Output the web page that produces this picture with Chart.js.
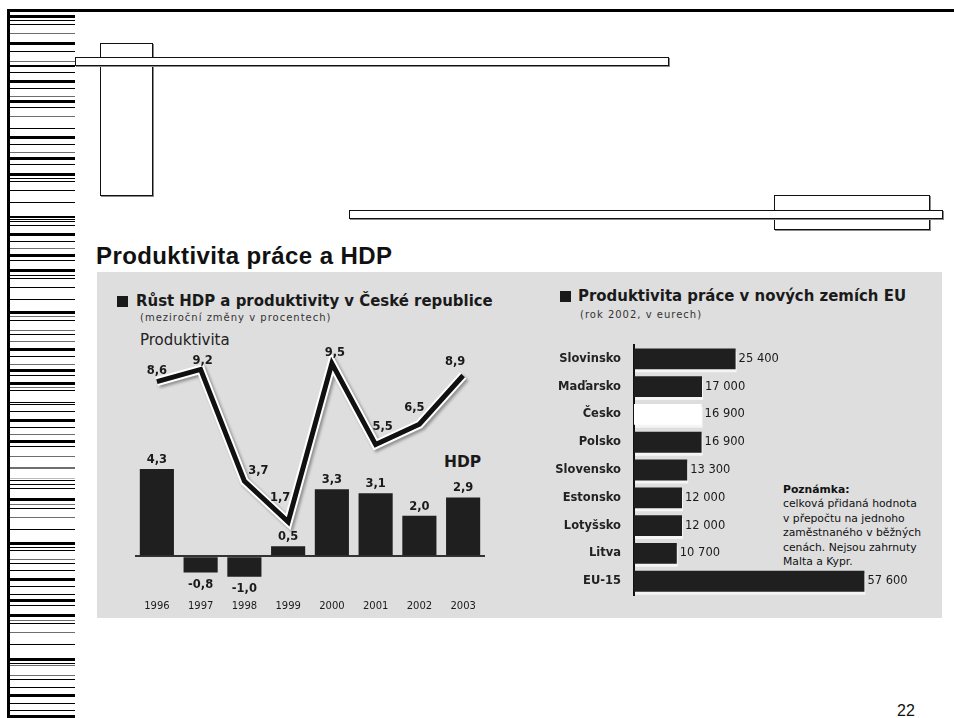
<!DOCTYPE html>
<html>
<head>
<meta charset="utf-8">
<script src="https://cdn.jsdelivr.net/npm/chart.js@4.4.0/dist/chart.umd.min.js"></script>
<style>
  body { margin: 0; width: 954px; height: 718px; position: relative; overflow: hidden; background: #fff; font-family: "Liberation Sans", Arial, sans-serif; color: #1a1a1a; }
  .abs { position: absolute; }
  .box { position: absolute; box-sizing: border-box; border: 1px solid #111; background: #fff; box-shadow: 1px 1px 0 #8a8a8a; }
  .panel { position: absolute; left: 97px; top: 272px; width: 845px; height: 346px; background: #dedede; }
  .title { left: 96px; top: 244px; font-size: 24px; font-weight: bold; line-height: 1; letter-spacing: 0.4px; color: #111; }
  .head { font-family: "Liberation Sans Narrow", "DejaVu Sans Condensed", "Liberation Sans", sans-serif; font-size: 16.6px; font-weight: bold; line-height: 1; color: #1a1a1a; white-space: nowrap; }
  .sq { position: absolute; width: 11px; height: 11px; background: #1a1a1a; }
  .small { font-family: "DejaVu Sans", sans-serif; font-size: 10px; line-height: 1; letter-spacing: 1px; color: #333; white-space: nowrap; }
  .note { font-family: "DejaVu Sans", sans-serif; font-size: 10.8px; line-height: 14.4px; color: #111; white-space: nowrap; }
  canvas { position: absolute; }
</style>
</head>
<body>
<div id="stripes"></div>
<div class="abs" style="left:7px;top:9px;width:947px;height:3px;background:#000"></div>
<div class="abs" style="left:7px;top:9px;width:3px;height:709px;background:#000"></div>

<div class="box" style="left:100px;top:43px;width:53px;height:153px"></div>
<div class="box" style="left:75px;top:57px;width:594px;height:9px"></div>
<div class="box" style="left:774px;top:195px;width:156px;height:35px"></div>
<div class="box" style="left:349px;top:210px;width:594px;height:9px"></div>

<div class="abs title">Produktivita práce a HDP</div>
<div class="panel"></div>

<div class="sq" style="left:117px;top:296px"></div>
<div class="abs head" style="left:136px;top:293px">Růst HDP a produktivity v České republice</div>
<div class="abs small" style="left:140px;top:313px">(meziroční změny v procentech)</div>
<div class="abs" style="left:140px;top:333px;font-family:'DejaVu Sans',sans-serif;font-size:15px;line-height:1;color:#222">Produktivita</div>
<div class="abs" style="left:444px;top:455px;font-family:'DejaVu Sans',sans-serif;font-weight:bold;font-size:15.5px;line-height:1;color:#1a1a1a">HDP</div>

<div class="sq" style="left:560px;top:291px"></div>
<div class="abs head" style="left:578px;top:288px">Produktivita práce v nových zemích EU</div>
<div class="abs small" style="left:580px;top:310px">(rok 2002, v eurech)</div>

<div class="abs note" style="left:783px;top:483px"><b>Poznámka:</b><br>celková přidaná hodnota<br>v přepočtu na jednoho<br>zaměstnaného v běžných<br>cenách. Nejsou zahrnuty<br>Malta a Kypr.</div>

<div class="abs" style="left:897px;top:703px;font-size:16px;line-height:1;color:#111">22</div>

<canvas id="growth" width="423" height="288" style="left:97px;top:330px"></canvas>
<canvas id="eu" width="400" height="290" style="left:540px;top:325px"></canvas>

<script>
// left chart: year-on-year change in %
const years = ['1996', '1997', '1998', '1999', '2000', '2001', '2002', '2003'];
const productivity = [8.6, 9.2, 3.7, 1.7, 9.5, 5.5, 6.5, 8.9];
const gdp = [4.3, -0.8, -1.0, 0.5, 3.3, 3.1, 2.0, 2.9];

// right chart: labour productivity 2002, EUR
const countries = ['Slovinsko', 'Maďarsko', 'Česko', 'Polsko', 'Slovensko', 'Estonsko', 'Lotyšsko', 'Litva', 'EU-15'];
const productivityEur = [25400, 17000, 16900, 16900, 13300, 12000, 12000, 10700, 57600];

// where the productivity labels sit relative to their point
const lineLabelShift = [[0, -11], [2, -8], [14, -10], [-8, -24], [3, -10], [7, -18], [-5, -16], [-8, -13]];

// decorative barcode strip on the slide's left edge: [top, height, colour]
const stripes = [
  [15,3,'k'],[20,1,'k'],[24,1,'k'],[33,1,'g'],[42,3,'k'],[51,1,'k'],[61,1,'g'],[65,2,'k'],[72,1,'k'],[80,3,'k'],
  [88,1,'k'],[96,1,'g'],[100,3,'k'],[107,1,'k'],[116,1,'g'],[128,1,'k'],[136,3,'k'],[144,1,'k'],[152,1,'g'],[157,3,'k'],
  [164,1,'k'],[173,3,'k'],[178,1,'k'],[181,1,'k'],[190,1,'k'],[202,1,'k'],[216,2,'k'],[219,1,'k'],[221,1,'k'],[225,1,'k'],
  [233,3,'k'],[241,1,'k'],[248,1,'g'],[254,3,'k'],[260,1,'k'],[269,3,'k'],[275,1,'k'],[278,1,'k'],[287,1,'k'],[299,1,'k'],
  [311,3,'k'],[316,1,'g'],[320,1,'k'],[330,1,'g'],[334,1,'k'],[341,1,'g'],[348,3,'k'],[356,1,'k'],[364,1,'g'],[369,3,'k'],
  [375,1,'k'],[382,3,'k'],[387,1,'g'],[390,1,'k'],[402,1,'k'],[404,1,'k'],[411,1,'k'],[419,3,'k'],[427,1,'k'],[434,1,'g'],
  [440,3,'k'],[446,1,'k'],[456,1,'g'],[467,2,'g'],[478,1,'l'],[480,1,'k'],[484,1,'k'],[488,1,'k'],[498,3,'k'],[504,1,'g'],
  [508,1,'k'],[517,1,'g'],[529,1,'k'],[542,3,'k'],[547,1,'k'],[550,1,'k'],[559,1,'g'],[563,1,'k'],[570,1,'k'],[578,3,'k'],
  [586,1,'k'],[594,1,'k'],[599,3,'k'],[605,1,'k'],[614,3,'k'],[620,1,'g'],[623,1,'k'],[632,1,'g'],[644,1,'k'],[658,3,'k'],
  [663,1,'k'],[665,1,'g'],[675,1,'g'],[679,1,'k'],[687,1,'k'],[694,3,'k'],[703,1,'k'],[710,1,'k'],[715,3,'k']
];
const stripeColours = { k: '#000', g: '#6e6e6e', l: '#bbb' };
const stripeBox = document.getElementById('stripes');
stripes.forEach(([top, h, c]) => {
  const d = document.createElement('div');
  d.className = 'abs';
  d.style.cssText = `left:8px;top:${top}px;width:67px;height:${h}px;background:${stripeColours[c]}`;
  stripeBox.appendChild(d);
});

const dec = v => v.toFixed(1).replace('.', ',');
const eur = v => String(v).replace(/\B(?=(\d{3})+(?!\d))/g, ' ');

// left chart labels and the shadow under the productivity line
const growthDecor = {
  id: 'growthDecor',
  beforeDatasetDraw(chart, args) {
    if (args.index === 0) {
      const ctx = chart.ctx;
      ctx.save();
      ctx.shadowColor = 'rgba(0,0,0,0.35)';
      ctx.shadowBlur = 3;
      ctx.shadowOffsetX = 2;
      ctx.shadowOffsetY = 2;
    }
  },
  afterDatasetDraw(chart, args) {
    if (args.index === 0) chart.ctx.restore();
  },
  afterDatasetsDraw(chart) {
    const ctx = chart.ctx;
    ctx.save();
    ctx.fillStyle = '#1a1a1a';
    ctx.textAlign = 'center';
    ctx.textBaseline = 'middle';
    ctx.font = 'bold 11.5px "DejaVu Sans"';
    chart.getDatasetMeta(2).data.forEach((bar, i) => {
      const v = gdp[i];
      ctx.fillText(dec(v), bar.x, v >= 0 ? bar.y - 9 : bar.y + 12);
    });
    chart.getDatasetMeta(1).data.forEach((pt, i) => {
      const [dx, dy] = lineLabelShift[i];
      ctx.fillText(dec(productivity[i]), pt.x + dx, pt.y + dy);
    });
    ctx.restore();
  }
};

new Chart(document.getElementById('growth'), {
  type: 'bar',
  data: {
    labels: years,
    datasets: [
      { type: 'line', data: productivity, borderColor: '#fff', borderWidth: 9, pointRadius: 0, tension: 0, order: 1 },
      { type: 'line', data: productivity, borderColor: '#111', borderWidth: 5, pointRadius: 0, tension: 0, order: 0 },
      { type: 'bar', data: gdp, backgroundColor: '#1f1f1f', barPercentage: 0.78, categoryPercentage: 1, order: 2 }
    ]
  },
  options: {
    responsive: false,
    animation: false,
    layout: { padding: { left: 38, right: 35, top: 13, bottom: 3 } },
    plugins: { legend: { display: false }, tooltip: { enabled: false } },
    scales: {
      x: {
        grid: { display: false, drawTicks: false },
        border: { display: false },
        ticks: { padding: 3, color: '#1a1a1a', font: { family: 'DejaVu Sans', size: 10 } }
      },
      y: {
        min: -2,
        max: 10.5,
        ticks: { display: false, stepSize: 1 },
        grid: { drawTicks: false, lineWidth: 2, color: c => c.tick.value === 0 ? '#333' : 'transparent' },
        border: { display: false }
      }
    }
  },
  plugins: [growthDecor]
});

// right chart value labels and the pale strip under each bar
const euLabels = {
  id: 'euLabels',
  beforeDatasetDraw(chart) {
    const ctx = chart.ctx;
    ctx.save();
    ctx.shadowColor = 'rgba(250,250,250,0.8)';
    ctx.shadowOffsetX = 1;
    ctx.shadowOffsetY = 3;
  },
  afterDatasetDraw(chart) {
    chart.ctx.restore();
  },
  afterDatasetsDraw(chart) {
    const ctx = chart.ctx;
    ctx.save();
    ctx.fillStyle = '#1a1a1a';
    ctx.textAlign = 'left';
    ctx.textBaseline = 'middle';
    ctx.font = '11.5px "DejaVu Sans"';
    chart.getDatasetMeta(0).data.forEach((bar, i) => {
      ctx.fillText(eur(productivityEur[i]), bar.x + 3, bar.y);
    });
    ctx.restore();
  }
};

new Chart(document.getElementById('eu'), {
  type: 'bar',
  data: {
    labels: countries,
    datasets: [{
      data: productivityEur,
      backgroundColor: countries.map(c => c === 'Česko' ? '#ffffff' : '#1f1f1f'),
      barPercentage: 0.75,
      categoryPercentage: 1
    }]
  },
  options: {
    indexAxis: 'y',
    responsive: false,
    animation: false,
    layout: { padding: { left: 0, right: 6, top: 8, bottom: 6 } },
    plugins: { legend: { display: false }, tooltip: { enabled: false } },
    scales: {
      x: { display: false, min: 0, max: 75000 },
      y: {
        afterFit: s => { s.width = 94; },
        grid: { display: false, drawTicks: false },
        border: { display: true, color: '#111', width: 2 },
        ticks: { padding: 13, color: '#222', font: { family: 'DejaVu Sans', weight: 'bold', size: 11.5 } }
      }
    }
  },
  plugins: [euLabels]
});
</script>
</body>
</html>
